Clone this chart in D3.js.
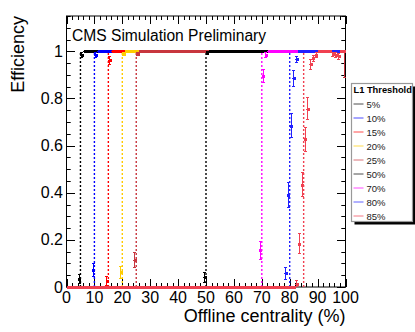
<!DOCTYPE html>
<html>
<head>
<meta charset="utf-8">
<script src="https://cdn.jsdelivr.net/npm/d3@7"></script>
<style>
  body { margin: 0; background: #fff; }
  text { font-family: "Liberation Sans", Arial, sans-serif; }
</style>
</head>
<body>
<script>
// L1 centrality trigger turn-on curves, one series per threshold
var thresholds = [5, 10, 15, 20, 25, 50, 70, 80, 85];
var labels = ["5%", "10%", "15%", "20%", "25%", "50%", "70%", "80%", "85%"];
var colors = ["#000000", "#0000ff", "#ff0000", "#ffcc00", "#c8363e", "#000000", "#ff00ff", "#2020ff", "#f04050"];

// efficiency per 1% centrality bin (0-1, 1-2, ... 99-100)
var eff5 = [
  0,0,0,0,0.033,0.985,1,1,1,1,1,1,1,1,1,1,1,1,1,1,
  1,1,1,1,1,1,1,1,1,1,1,1,1,1,1,1,1,1,1,1,
  1,1,1,1,1,1,1,1,1,1,1,1,1,1,1,1,1,1,1,1,
  1,1,1,1,1,1,1,1,1,1,1,1,1,1,1,1,1,1,1,1,
  1,1,1,1,1,1,1,1,1,1,1,1,1,1,1,1,1,1,1,1];
var eff10 = [
  0,0,0,0,0,0,0,0,0,0.072,0.985,1,1,1,1,1,1,1,1,1,
  1,1,1,1,1,1,1,1,1,1,1,1,1,1,1,1,1,1,1,1,
  1,1,1,1,1,1,1,1,1,1,1,1,1,1,1,1,1,1,1,1,
  1,1,1,1,1,1,1,1,1,1,1,1,1,1,1,1,1,1,1,1,
  1,1,1,1,1,1,1,1,1,1,1,1,1,1,1,1,1,1,1,1];
var eff15 = [
  0,0,0,0,0,0,0,0,0,0,0,0,0,0,0.025,0.965,1,1,1,1,
  1,1,1,1,1,1,1,1,1,1,1,1,1,1,1,1,1,1,1,1,
  1,1,1,1,1,1,1,1,1,1,1,1,1,1,1,1,1,1,1,1,
  1,1,1,1,1,1,1,1,1,1,1,1,1,1,1,1,1,1,1,1,
  1,1,1,1,1,1,1,1,1,1,1,1,1,1,1,1,1,1,1,1];
var eff20 = [
  0,0,0,0,0,0,0,0,0,0,0,0,0,0,0,0,0,0,0,0.062,
  0.99,1,1,1,1,1,1,1,1,1,1,1,1,1,1,1,1,1,1,1,
  1,1,1,1,1,1,1,1,1,1,1,1,1,1,1,1,1,1,1,1,
  1,1,1,1,1,1,1,1,1,1,1,1,1,1,1,1,1,1,1,1,
  1,1,1,1,1,1,1,1,1,1,1,1,1,1,1,1,1,1,1,1];
var eff25 = [
  0,0,0,0,0,0,0,0,0,0,0,0,0,0,0,0,0,0,0,0,
  0,0,0,0,0.115,0.99,1,1,1,1,1,1,1,1,1,1,1,1,1,1,
  1,1,1,1,1,1,1,1,1,1,1,1,1,1,1,1,1,1,1,1,
  1,1,1,1,1,1,1,1,1,1,1,1,1,1,1,1,1,1,1,1,
  1,1,1,1,1,1,1,1,1,1,1,1,1,1,1,1,1,1,1,1];
var eff50 = [
  0,0,0,0,0,0,0,0,0,0,0,0,0,0,0,0,0,0,0,0,
  0,0,0,0,0,0,0,0,0,0,0,0,0,0,0,0,0,0,0,0,
  0,0,0,0,0,0,0,0,0,0.041,0.995,1,1,1,1,1,1,1,1,1,
  1,1,1,1,1,1,1,1,1,1,1,1,1,1,1,1,1,1,1,1,
  1,1,1,1,1,1,1,1,1,1,1,1,1,1,1,1,1,1,1,1];
var eff70 = [
  0,0,0,0,0,0,0,0,0,0,0,0,0,0,0,0,0,0,0,0,
  0,0,0,0,0,0,0,0,0,0,0,0,0,0,0,0,0,0,0,0,
  0,0,0,0,0,0,0,0,0,0,0,0,0,0,0,0,0,0,0,0,
  0,0,0,0,0,0,0,0,0,0.155,0.895,0.985,1,1,1,1,1,1,1,1,
  1,1,1,1,1,1,1,1,1,1,1,1,1,1,1,1,1,1,1,1];
var eff80 = [
  0,0,0,0,0,0,0,0,0,0,0,0,0,0,0,0,0,0,0,0,
  0,0,0,0,0,0,0,0,0,0,0,0,0,0,0,0,0,0,0,0,
  0,0,0,0,0,0,0,0,0,0,0,0,0,0,0,0,0,0,0,0,
  0,0,0,0,0,0,0,0,0,0,0,0,0,0,0,0,0,0,0.058,0.39,
  0.685,0.885,0.967,1,1,1,1,1,1,1,1,1,1,1,1,1,1,1,1,1];
var eff85 = [
  0,0,0,0,0,0,0,0,0,0,0,0,0,0,0,0,0,0,0,0,
  0,0,0,0,0,0,0,0,0,0,0,0,0,0,0,0,0,0,0,0,
  0,0,0,0,0,0,0,0,0,0,0,0,0,0,0,0,0,0,0,0,
  0,0,0,0,0,0,0,0,0,0,0,0,0,0,0,0,0,0,0,0,
  0,0,0.012,0.183,0.434,0.626,0.757,0.945,0.972,0.985,1,1,1,1,1,0.99,0.985,0.98,1,1];

// [bin, error down, error up] for bins with a visible error bar
var err5 = [[4, 0.02, 0.02], [5, 0.012, 0.008]];
var err10 = [[9, 0.028, 0.028], [10, 0.012, 0.008]];
var err15 = [[14, 0.018, 0.018], [15, 0.02, 0.015]];
var err20 = [[19, 0.025, 0.025], [20, 0.008, 0.006]];
var err25 = [[24, 0.033, 0.033], [25, 0.008, 0.006], [99, 0.11, 0]];
var err50 = [[49, 0.021, 0.021], [50, 0.005, 0.004]];
var err70 = [[69, 0.04, 0.04], [70, 0.028, 0.028], [71, 0.012, 0.01]];
var err80 = [[78, 0.026, 0.026], [79, 0.053, 0.053], [80, 0.05, 0.05], [81, 0.035, 0.033], [82, 0.015, 0.012]];
var err85 = [[82, 0.01, 0.014], [83, 0.042, 0.042], [84, 0.05, 0.05], [85, 0.05, 0.05], [86, 0.046, 0.046],
             [87, 0.022, 0.02], [88, 0.014, 0.012], [89, 0.01, 0.008], [95, 0.01, 0.007], [96, 0.012, 0.009], [97, 0.014, 0.011]];

var effs = [eff5, eff10, eff15, eff20, eff25, eff50, eff70, eff80, eff85];
var errs = [err5, err10, err15, err20, err25, err50, err70, err80, err85];

var xTicks = [0, 10, 20, 30, 40, 50, 60, 70, 80, 90, 100];
var yTicks = [0, 0.2, 0.4, 0.6, 0.8, 1];

var width = 415,
    height = 332;

// frame edges (note: "top" is taken by window.top)
var padL = 66.5, padR = 345.5, padT = 16, padB = 287;

var x = d3.scaleLinear().domain([0, 100]).range([padL, padR]);
var y = d3.scaleLinear().domain([0, 1.15]).range([padB, padT]);

var svg = d3.select("body").append("svg")
    .attr("width", width)
    .attr("height", height);

// frame first, like ROOT, so the points sit on top of it
svg.append("rect")
    .attr("x", padL)
    .attr("y", padT)
    .attr("width", padR - padL)
    .attr("height", padB - padT)
    .attr("fill", "none")
    .attr("stroke", "#000")
    .attr("stroke-width", 1);

// ROOT-style ticks: inside the frame, on all four sides
var xMinor = d3.range(0, 100.01, 2);
var yMinor = d3.range(0, 1.151, 0.05);

var ticks = svg.append("g").attr("stroke", "#000").attr("stroke-width", 1);
xMinor.forEach(function(v) {
    var len = (Math.round(v) % 10 === 0) ? 8 : 4;
    var px = Math.round(x(v)) + 0.5;
    ticks.append("line").attr("x1", px).attr("x2", px).attr("y1", padB).attr("y2", padB - len);
    ticks.append("line").attr("x1", px).attr("x2", px).attr("y1", padT).attr("y2", padT + len);
});
yMinor.forEach(function(v) {
    var len = (Math.round(v * 100) % 20 === 0) ? 8.5 : 4.2;
    var py = Math.round(y(v)) + 0.5;
    ticks.append("line").attr("x1", padL).attr("x2", padL + len).attr("y1", py).attr("y2", py);
    ticks.append("line").attr("x1", padR).attr("x2", padR - len).attr("y1", py).attr("y2", py);
});

// tick labels
svg.append("g").selectAll("text")
    .data(xTicks).enter().append("text")
    .attr("x", function(d) { return x(d); })
    .attr("y", 303)
    .attr("text-anchor", "middle")
    .style("font-size", "16px")
    .text(function(d) { return d; });

svg.append("g").selectAll("text")
    .data(yTicks).enter().append("text")
    .attr("x", 63)
    .attr("y", function(d) { return y(d) + 5.5; })
    .attr("text-anchor", "end")
    .style("font-size", "16px")
    .text(function(d) { return d; });

// axis titles
svg.append("text")
    .attr("x", padR)
    .attr("y", 322)
    .attr("text-anchor", "end")
    .style("font-size", "18px")
    .text("Offline centrality (%)");

svg.append("text")
    .attr("transform", "translate(24," + padT + ") rotate(-90)")
    .attr("text-anchor", "end")
    .style("font-size", "18px")
    .text("Efficiency");

// threshold markers
svg.append("g").selectAll("line")
    .data(thresholds).enter().append("line")
    .attr("x1", function(d) { return x(d); })
    .attr("x2", function(d) { return x(d); })
    .attr("y1", y(0))
    .attr("y2", y(1))
    .attr("stroke", function(d, i) { return colors[i]; })
    .attr("stroke-width", 1.4)
    .attr("stroke-dasharray", "2,2");

// efficiency points, drawn in threshold order so later ones sit on top
effs.forEach(function(vals, s) {
    var col = colors[s];
    var errMap = {};
    errs[s].forEach(function(e) { errMap[e[0]] = e; });

    var g = svg.append("g")
        .attr("stroke", col)
        .attr("fill", "none")
        .attr("shape-rendering", "crispEdges");
    var pts = g.selectAll("g.pt")
        .data(vals.map(function(v, i) { return {bin: i, v: v, e: errMap[i]}; }))
        .enter().append("g").attr("class", "pt");

    // bin width
    pts.append("line")
        .attr("x1", function(d) { return x(d.bin); })
        .attr("x2", function(d) { return x(d.bin + 1); })
        .attr("y1", function(d) { return Math.round(y(d.v)) + 0.5; })
        .attr("y2", function(d) { return Math.round(y(d.v)) + 0.5; })
        .attr("stroke-width", 1);

    // error bars with end caps
    var withErr = pts.filter(function(d) { return d.e; });
    withErr.append("line")
        .attr("x1", function(d) { return x(d.bin + 0.5); })
        .attr("x2", function(d) { return x(d.bin + 0.5); })
        .attr("y1", function(d) { return y(d.v - d.e[1]); })
        .attr("y2", function(d) { return y(d.v + d.e[2]); })
        .attr("stroke-width", 1);
    withErr.append("line")
        .attr("x1", function(d) { return x(d.bin + 0.5) - 1.5; })
        .attr("x2", function(d) { return x(d.bin + 0.5) + 1.5; })
        .attr("y1", function(d) { return y(d.v - d.e[1]); })
        .attr("y2", function(d) { return y(d.v - d.e[1]); })
        .attr("stroke-width", 1);
    withErr.filter(function(d) { return d.e[2] > 0; }).append("line")
        .attr("x1", function(d) { return x(d.bin + 0.5) - 1.5; })
        .attr("x2", function(d) { return x(d.bin + 0.5) + 1.5; })
        .attr("y1", function(d) { return y(d.v + d.e[2]); })
        .attr("y2", function(d) { return y(d.v + d.e[2]); })
        .attr("stroke-width", 1);

    // open square marker
    pts.append("rect")
        .attr("x", function(d) { return Math.round(x(d.bin + 0.5)) - 1; })
        .attr("y", function(d) { return Math.round(y(d.v)) - 1; })
        .attr("width", 2)
        .attr("height", 2)
        .attr("stroke-width", 1);
});

// plot label
svg.append("text")
    .attr("x", 72)
    .attr("y", 41)
    .style("font-size", "15.6px")
    .text("CMS Simulation Preliminary");

// legend
var lx = 351.5, ly = 83.5, lw = 61, lh = 138;
svg.append("rect")
    .attr("x", lx + 3).attr("y", ly + 3)
    .attr("width", lw).attr("height", lh)
    .attr("fill", "#000");
svg.append("rect")
    .attr("x", lx).attr("y", ly)
    .attr("width", lw).attr("height", lh)
    .attr("fill", "#fff")
    .attr("stroke", "#999")
    .attr("stroke-width", 1.2);

svg.append("text")
    .attr("x", lx + 2)
    .attr("y", ly + 9.5)
    .style("font-size", "9.3px")
    .style("font-weight", "bold")
    .text("L1 Threshold");

var entries = svg.append("g").selectAll("g")
    .data(labels).enter().append("g")
    .attr("transform", function(d, i) { return "translate(" + lx + "," + (ly + 20.5 + i * 14) + ")"; });

entries.append("line")
    .attr("x1", 2).attr("x2", 12)
    .attr("y1", 0).attr("y2", 0)
    .attr("stroke", function(d) { return colors[labels.indexOf(d)]; })
    .attr("stroke-opacity", 0.7)
    .attr("stroke-width", 1);

entries.append("text")
    .attr("x", 15)
    .attr("y", 3.5)
    .style("font-size", "9.5px")
    .style("fill", "#222")
    .text(function(d) { return d; });
</script>
</body>
</html>
